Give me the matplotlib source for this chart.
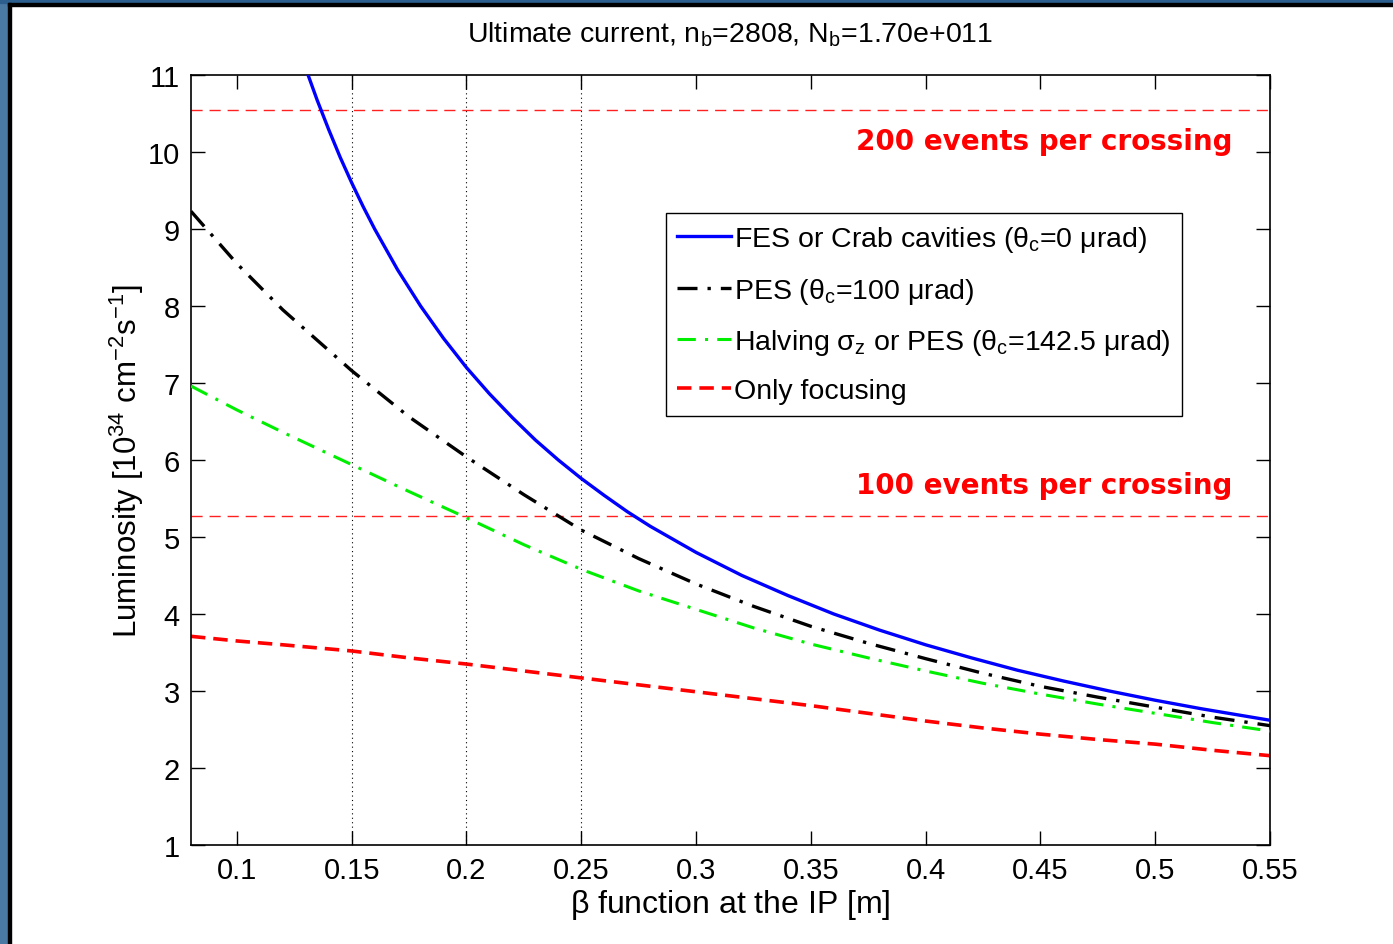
import matplotlib
matplotlib.use("Agg")
import matplotlib.pyplot as plt
from matplotlib.patches import Rectangle

plt.rcParams['font.family'] = ['Liberation Sans', 'DejaVu Sans']
plt.rcParams['mathtext.fontset'] = 'custom'
plt.rcParams['mathtext.rm'] = 'Liberation Sans'
plt.rcParams['mathtext.it'] = 'Liberation Sans'

# beta* values [m] and luminosities [1e34 cm^-2 s^-1]
beta_fes = [0.131, 0.135, 0.14, 0.145, 0.15, 0.155, 0.16, 0.17, 0.18, 0.19, 0.20, 0.21, 0.22, 0.23, 0.24,
            0.25, 0.26, 0.27, 0.28, 0.29, 0.30, 0.32, 0.34, 0.36, 0.38, 0.40, 0.42, 0.44, 0.46, 0.48,
            0.50, 0.52, 0.55]
lum_fes = [11.0, 10.67, 10.29, 9.93, 9.60, 9.29, 9.00, 8.47, 8.00, 7.58, 7.20, 6.86, 6.55, 6.26, 6.00,
           5.76, 5.54, 5.33, 5.14, 4.97, 4.80, 4.50, 4.24, 4.00, 3.79, 3.60, 3.43, 3.27, 3.13, 3.00,
           2.88, 2.77, 2.62]

beta_all = [0.08, 0.10, 0.12, 0.15, 0.175, 0.20, 0.225, 0.25, 0.275, 0.30, 0.325, 0.35, 0.375, 0.40, 0.425, 0.45, 0.475, 0.50, 0.525, 0.55]
lum_pes = [9.23, 8.55, 7.95, 7.16, 6.56, 6.04, 5.55, 5.09, 4.72, 4.39, 4.10, 3.84, 3.62, 3.42, 3.23, 3.06, 2.92, 2.79, 2.66, 2.55]
lum_half = [6.96, 6.65, 6.36, 5.94, 5.59, 5.25, 4.90, 4.58, 4.30, 4.06, 3.82, 3.61, 3.43, 3.26, 3.10, 2.96, 2.83, 2.71, 2.59, 2.48]
lum_foc = [3.71, 3.65, 3.60, 3.52, 3.43, 3.35, 3.26, 3.17, 3.08, 2.99, 2.90, 2.81, 2.71, 2.61, 2.52, 2.44, 2.37, 2.31, 2.23, 2.16]

events_levels = [10.54, 5.27]
events_labels = ["200 events per crossing", "100 events per crossing"]
vlines_beta = [0.15, 0.20, 0.25]

xticks = [0.1, 0.15, 0.2, 0.25, 0.3, 0.35, 0.4, 0.45, 0.5, 0.55]
xticklabels = ["0.1", "0.15", "0.2", "0.25", "0.3", "0.35", "0.4", "0.45", "0.5", "0.55"]
yticks = list(range(1, 12))

fig = plt.figure(figsize=(13.93, 9.45), dpi=100)
# window frame
fig.patches.append(Rectangle((0, 0), 8/1393, 1, transform=fig.transFigure, color='#4a7aa4', zorder=0))
fig.patches.append(Rectangle((0, 1 - 4/945), 1, 4/945, transform=fig.transFigure, color='#2c5f8e', zorder=0))
fig.patches.append(Rectangle((8/1393, 0), 2.5/1393, 1 - 4/945, transform=fig.transFigure, color='black', zorder=0))
fig.patches.append(Rectangle((8/1393, 1 - 6.5/945), 1 - 8/1393, 2.5/945, transform=fig.transFigure, color='black', zorder=0))

ax = fig.add_axes([191/1393, 1 - 846/945, (1270-191)/1393, (846-76)/945])

for xv in vlines_beta:
    ax.axvline(xv, color='black', linestyle=(0, (1, 3)), linewidth=0.8, zorder=1)
for lv in events_levels:
    ax.axhline(lv, color='#ff2020', linestyle=(0, (8, 5)), linewidth=1.0, zorder=1)

ax.plot(beta_fes, lum_fes, color='#0000ff', linewidth=2.4, label=r'FES or Crab cavities ($\theta_{c}$=0 $\mu$rad)', zorder=5)
ax.plot(beta_all, lum_pes, color='black', linewidth=2.4, linestyle=(0, (6, 3, 1, 3)), label=r'PES ($\theta_{c}$=100 $\mu$rad)', zorder=4)
ax.plot(beta_all, lum_half, color='#00ee00', linewidth=2.2, linestyle=(0, (6, 3, 1, 3)), label=r'Halving $\sigma_{z}$ or PES ($\theta_{c}$=142.5 $\mu$rad)', zorder=3)
ax.plot(beta_all, lum_foc, color='#ff0000', linewidth=2.6, linestyle=(0, (4, 2.2)), label='Only focusing', zorder=2)

ax.text(0.5335, events_levels[0] - 0.22, events_labels[0], color='#ff0000', fontsize=20, fontweight='bold',
        family='DejaVu Sans', ha='right', va='top')
ax.text(0.5335, events_levels[1] + 0.22, events_labels[1], color='#ff0000', fontsize=20, fontweight='bold',
        family='DejaVu Sans', ha='right', va='bottom')

ax.set_xlim(0.08, 0.55)
ax.set_ylim(1, 11)
ax.set_xticks(xticks)
ax.set_xticklabels(xticklabels)
ax.set_yticks(yticks)
ax.tick_params(direction='in', top=True, right=True, length=10, width=1, labelsize=21, pad=8)
for s in ax.spines.values():
    s.set_linewidth(1.2)

ax.set_title(r'Ultimate current, n$_{b}$=2808, N$_{b}$=1.70e+011', fontsize=20.5, pad=24)
ax.set_xlabel(r'$\beta$ function at the IP [m]', fontsize=23, labelpad=2)
ax.set_ylabel(r'Luminosity [10$^{34}$ cm$^{-2}$s$^{-1}$]', fontsize=22.5, labelpad=1)

leg = ax.legend(loc='upper left', bbox_to_anchor=((666-191)/(1270-191), (846-214)/(846-76)),
                fontsize=20.5, frameon=True, fancybox=False, edgecolor='black', framealpha=1,
                handlelength=1.9, handletextpad=0.1, borderpad=0.4, labelspacing=0.75,
                borderaxespad=0)
leg.get_frame().set_linewidth(1.0)

fig.savefig('out.png', dpi=100)
